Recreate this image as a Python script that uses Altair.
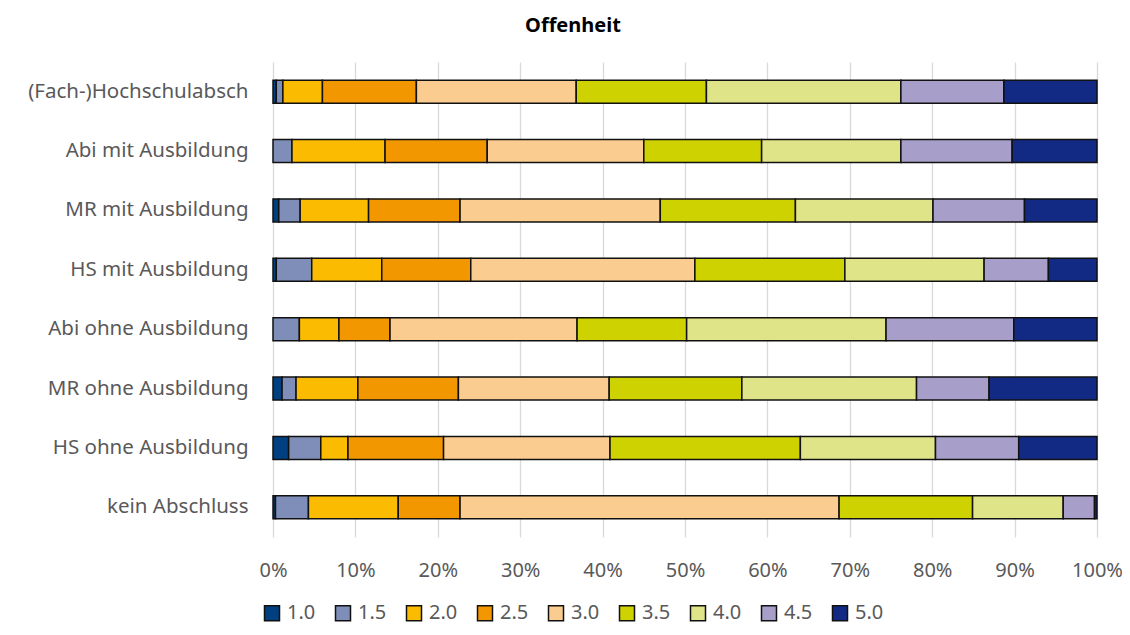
import altair as alt
import pandas as pd

categories = [
    "(Fach-)Hochschulabsch",
    "Abi mit Ausbildung",
    "MR mit Ausbildung",
    "HS mit Ausbildung",
    "Abi ohne Ausbildung",
    "MR ohne Ausbildung",
    "HS ohne Ausbildung",
    "kein Abschluss",
]
ratings = ["1.0", "1.5", "2.0", "2.5", "3.0", "3.5", "4.0", "4.5", "5.0"]
colors = ["#004080", "#7F8EB9", "#FABB00", "#F29700", "#FBCC8F",
          "#CDD200", "#E0E488", "#A79FC9", "#132A85"]

v10 = [0.4, 0.0, 0.7, 0.4, 0.0, 1.1, 1.9, 0.3]
v15 = [0.8, 2.3, 2.6, 4.3, 3.2, 1.7, 3.9, 4.0]
v20 = [4.8, 11.3, 8.3, 8.5, 4.8, 7.5, 3.3, 10.9]
v25 = [11.4, 12.4, 11.1, 10.8, 6.2, 12.2, 11.6, 7.5]
v30 = [19.4, 19.0, 24.3, 27.2, 22.7, 18.3, 20.2, 46.0]
v35 = [15.8, 14.3, 16.4, 18.2, 13.3, 16.1, 23.1, 16.2]
v40 = [23.6, 16.9, 16.7, 16.9, 24.2, 21.2, 16.4, 11.0]
v45 = [12.5, 13.5, 11.1, 7.8, 15.5, 8.8, 10.1, 3.8]
v50 = [11.3, 10.3, 8.8, 5.9, 10.1, 13.1, 9.5, 0.3]
series = [v10, v15, v20, v25, v30, v35, v40, v45, v50]

rows = []
for si, (r, vals) in enumerate(zip(ratings, series)):
    for c, v in zip(categories, vals):
        if v > 0:
            rows.append({"Kategorie": c, "Note": r, "order": si, "Anteil": v})
df = pd.DataFrame(rows)

FONT = "Noto Sans"
GREY = "#595959"

chart = (
    alt.Chart(df)
    .mark_bar(stroke="#111111", strokeWidth=1.5)
    .encode(
        x=alt.X(
            "Anteil:Q",
            stack="normalize",
            scale=alt.Scale(domain=[0, 1], nice=False),
            axis=alt.Axis(
                format=".0%",
                values=[i / 10 for i in range(11)],
                title=None,
                domain=False,
                ticks=False,
                grid=True,
                gridColor="#D9D9D9",
                gridWidth=1.3,
                labelFont=FONT,
                labelFontSize=20,
                labelColor=GREY,
                labelPadding=23,
                labelFlush=False,
            ),
        ),
        y=alt.Y(
            "Kategorie:N",
            sort=categories,
            scale=alt.Scale(paddingInner=0.613, paddingOuter=0.3065),
            axis=alt.Axis(
                title=None,
                domain=False,
                ticks=False,
                grid=False,
                labelFont=FONT,
                labelFontSize=20.5,
                labelColor=GREY,
                labelPadding=25,
                labelLimit=400,
            ),
        ),
        color=alt.Color(
            "Note:N",
            sort=ratings,
            scale=alt.Scale(domain=ratings, range=colors),
            legend=alt.Legend(
                title=None,
                orient="none",
                direction="horizontal",
                columns=9,
                legendX=-11,
                legendY=541,
                symbolType="square",
                symbolSize=225,
                symbolStrokeColor="#111111",
                symbolStrokeWidth=1.5,
                labelFont=FONT,
                labelFontSize=20,
                labelColor=GREY,
                labelOffset=5,
                columnPadding=16,
            ),
        ),
        order=alt.Order("order:Q", sort="ascending"),
    )
    .properties(
        width=824,
        height=475,
        autosize=alt.AutoSizeParams(type="none"),
        padding={"left": 265, "top": 54, "right": 25, "bottom": 90},
        title=alt.TitleParams(
            "Offenheit",
            font=FONT,
            fontSize=20,
            fontWeight="bold",
            color="#000000",
            anchor="middle",
            baseline="alphabetic",
            offset=10,
            dx=-112,
        ),
    )
    .configure_view(stroke=None)
)

chart.save("out.html", embed_options={"renderer": "svg", "actions": False})
